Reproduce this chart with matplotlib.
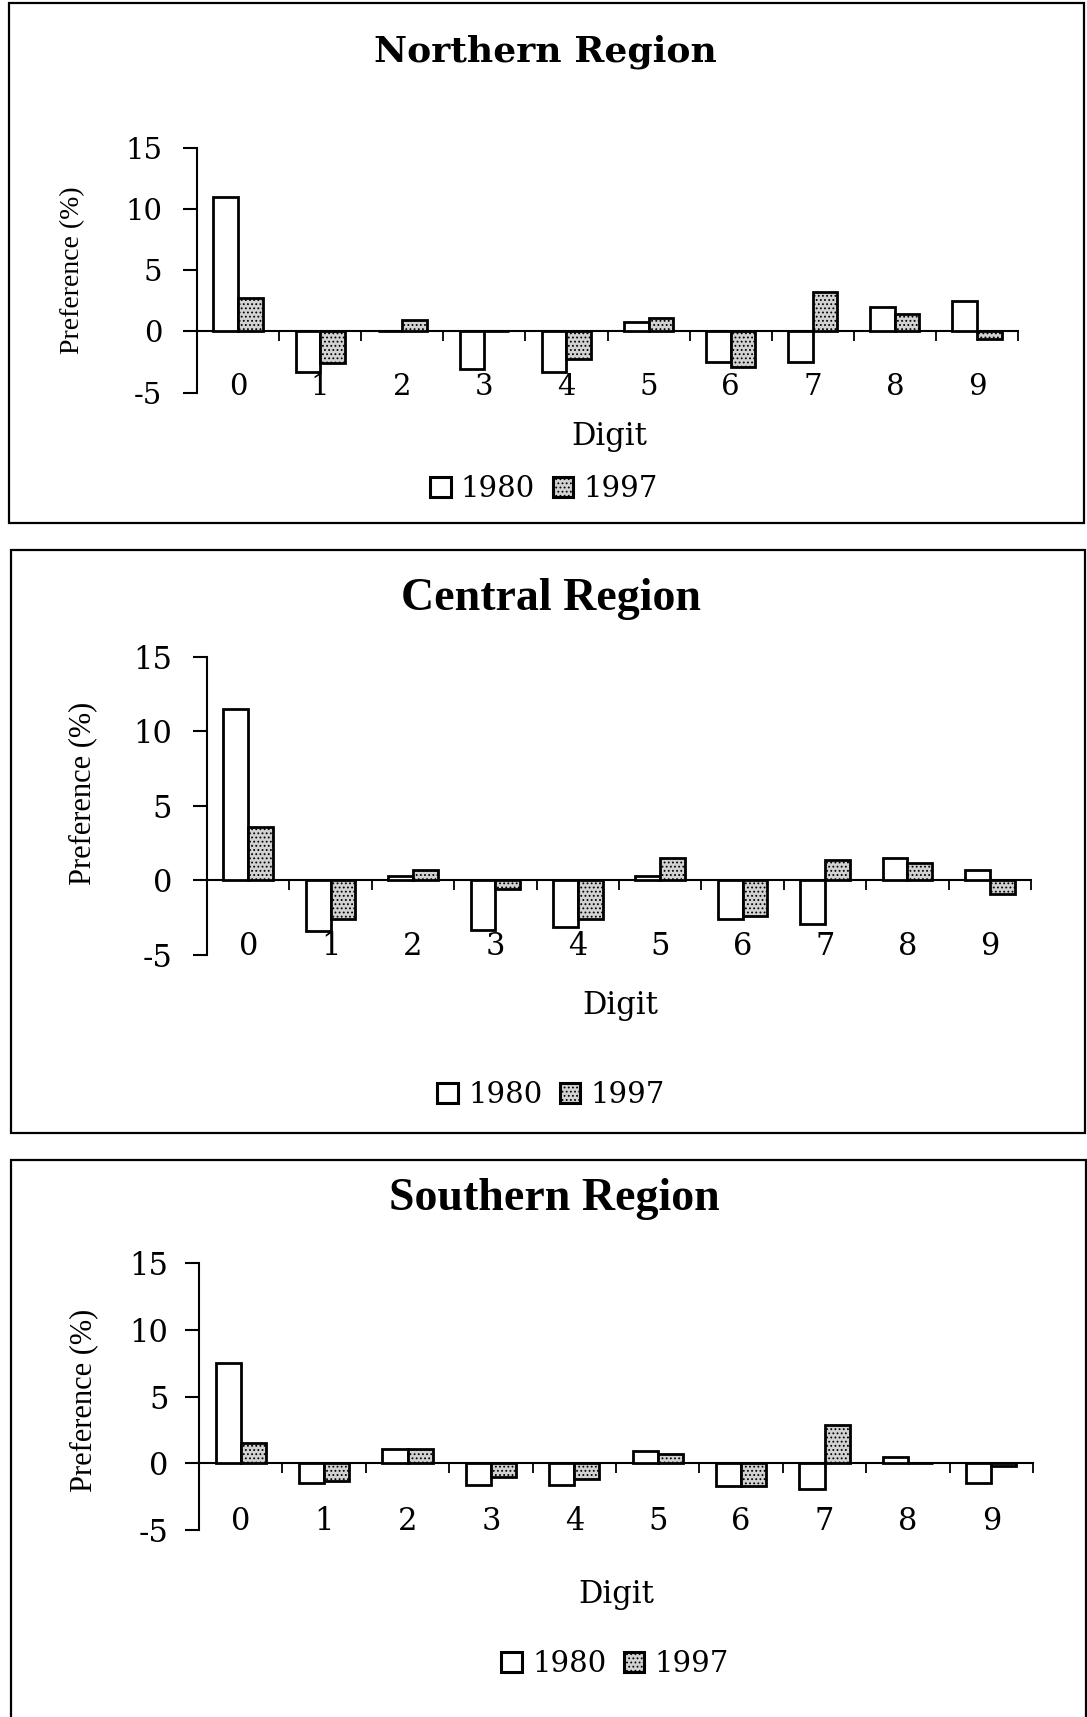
import matplotlib

matplotlib.use("Agg")
import matplotlib.pyplot as plt
import numpy as np
from matplotlib.patches import Patch, Rectangle

plt.rcParams["font.family"] = "DejaVu Serif"
plt.rcParams["hatch.linewidth"] = 0.8
plt.rcParams["axes.unicode_minus"] = False

# Digit preference (%) by terminal digit of reported age
digits = [0, 1, 2, 3, 4, 5, 6, 7, 8, 9]
years = ["1980", "1997"]
y_ticks = [-5, 0, 5, 10, 15]

north_1980 = [11.0, -3.3, 0.0, -3.1, -3.3, 0.8, -2.5, -2.5, 2.0, 2.5]
north_1997 = [2.7, -2.6, 0.9, 0.0, -2.3, 1.1, -2.9, 3.2, 1.4, -0.6]

central_1980 = [11.5, -3.4, 0.3, -3.3, -3.1, 0.3, -2.6, -2.9, 1.5, 0.7]
central_1997 = [3.6, -2.6, 0.7, -0.6, -2.6, 1.5, -2.4, 1.4, 1.2, -0.9]

south_1980 = [7.5, -1.5, 1.1, -1.6, -1.6, 0.9, -1.7, -1.9, 0.5, -1.5]
south_1997 = [1.5, -1.3, 1.1, -1.0, -1.2, 0.7, -1.7, 2.9, 0.05, -0.2]

W, H = 1087, 1717
SHADE = "#d2d2d2"

fig = plt.figure(figsize=(W / 100, H / 100), dpi=100)


def px_rect(left, top, right, bottom):
    """Pixel box -> figure fraction rect."""
    return [left / W, 1 - bottom / H, (right - left) / W, (bottom - top) / H]


def px_point(x, y):
    return x / W, 1 - y / H


def draw_panel(box, axes_box, title, title_font, title_size, title_xy,
               vals_1980, vals_1997, ylabel_xy, ylabel_size, digit_xy,
               legend_xy, tick_size, x_pad, y_pad):
    # panel frame
    bx0, by0, bx1, by1 = box
    fig.patches.append(Rectangle(px_point(bx0, by1), (bx1 - bx0) / W,
                                 (by1 - by0) / H, transform=fig.transFigure,
                                 fill=False, edgecolor="black", linewidth=1.6))

    ax = fig.add_axes(px_rect(*axes_box))
    x = np.arange(len(digits))
    w = 0.3
    ax.bar(x - w / 2, vals_1980, w, facecolor="white", edgecolor="black",
           linewidth=2, zorder=2)
    ax.bar(x + w / 2, vals_1997, w, facecolor=SHADE, edgecolor="black",
           hatch="....", linewidth=2, zorder=2)

    ax.set_xlim(-0.5, len(digits) - 0.5)
    ax.set_ylim(y_ticks[0], y_ticks[-1])
    ax.set_yticks(y_ticks)
    ax.set_facecolor("none")
    for side in ("top", "right", "bottom"):
        ax.spines[side].set_visible(False)
    ax.spines["left"].set_linewidth(1.5)
    ax.tick_params(axis="y", direction="out", length=10, width=1.5,
                   pad=y_pad, labelsize=tick_size)

    ax.set_xticks(x)
    ax.set_xticklabels([str(d) for d in digits])
    ax.tick_params(axis="x", length=0, pad=x_pad, labelsize=tick_size)

    # zero line with category separators
    zero_pos = (0 - y_ticks[0]) / (y_ticks[-1] - y_ticks[0])
    zero = ax.secondary_xaxis(zero_pos)
    zero.set_xticks(np.arange(-0.5, len(digits), 1.0))
    zero.set_xticklabels([])
    zero.tick_params(direction="out", length=7, width=1.3)
    zero.spines["bottom"].set_linewidth(1.5)

    fig.text(*px_point(*title_xy), title, ha="center", va="center",
             fontsize=title_size, fontweight="bold", family=title_font)
    fig.text(*px_point(*ylabel_xy), "Preference (%)", rotation=90,
             ha="center", va="center", fontsize=ylabel_size,
             family="Liberation Serif")
    fig.text(*px_point(*digit_xy), "Digit", ha="center", va="center",
             fontsize=22)

    handles = [Patch(facecolor="white", edgecolor="black", linewidth=2.2),
               Patch(facecolor=SHADE, edgecolor="black", hatch="....",
                     linewidth=2.2)]
    fig.legend(handles, years, loc="center",
               bbox_to_anchor=px_point(*legend_xy), ncol=2, frameon=False,
               fontsize=21, handlelength=0.7, handleheight=0.7,
               handletextpad=0.35, columnspacing=0.6, borderpad=0)
    return ax


draw_panel((9, 3, 1084, 523), (197, 148, 1018, 392.5), "Northern Region",
           "DejaVu Serif", 26, (545, 52), north_1980, north_1997,
           (73, 270), 20, (609, 436), (544, 489), 21, -14, 15)

draw_panel((11, 550, 1085, 1133), (207, 657, 1031, 955), "Central Region",
           "Liberation Serif", 33, (551, 599), central_1980, central_1997,
           (83, 793), 22, (620, 1005), (551, 1095), 22, -17, 15)

draw_panel((11, 1160, 1086, 1780), (199, 1263, 1033, 1530), "Southern Region",
           "Liberation Serif", 33, (554, 1199), south_1980, south_1997,
           (84, 1400), 22, (616, 1594), (615, 1664), 22, -17, 12)

fig.savefig("out.png", dpi=100)
